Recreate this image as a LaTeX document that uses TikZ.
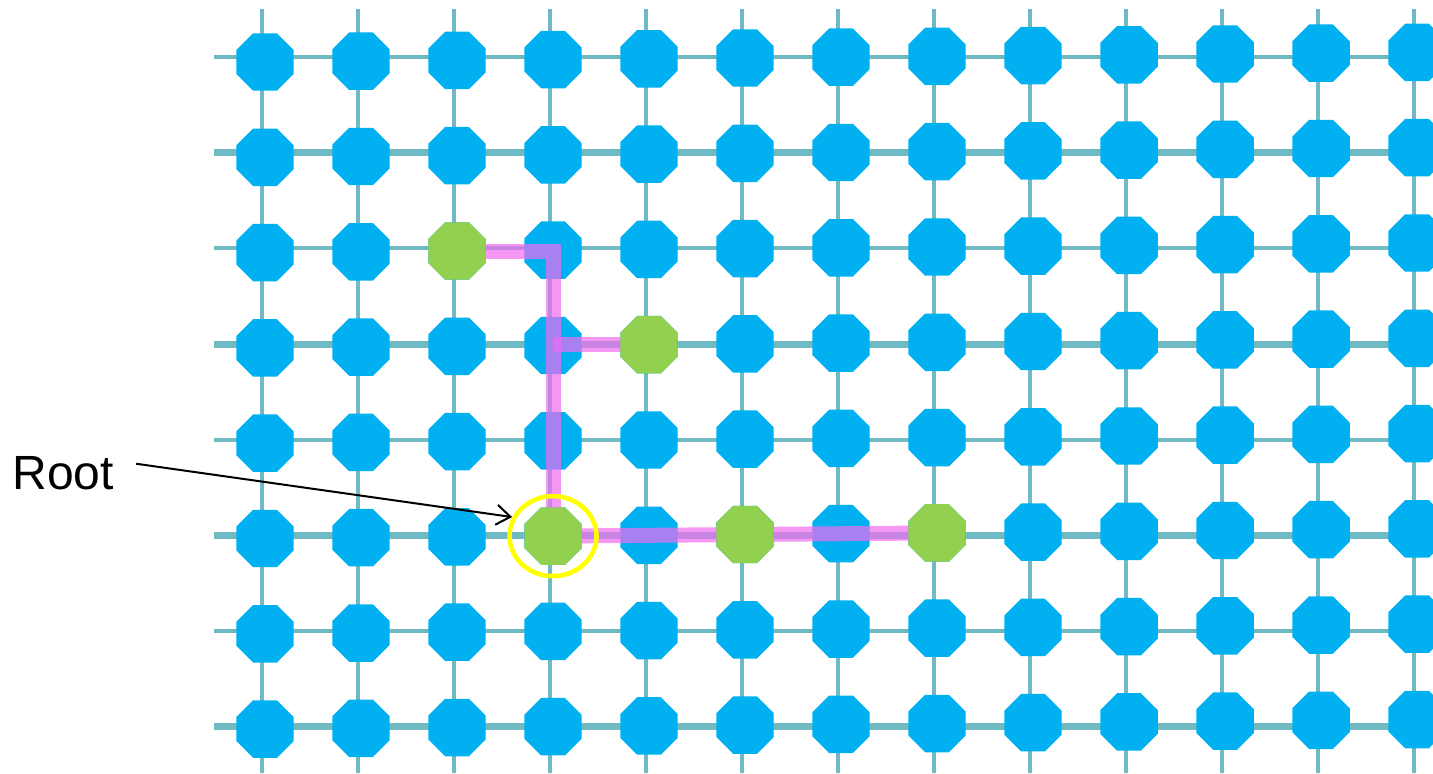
\documentclass[tikz,border=0pt]{standalone}
\usepackage{fontspec}
\setmainfont{Liberation Sans}
\usetikzlibrary{shapes.geometric,arrows.meta}
\begin{document}
\begin{tikzpicture}[x=0.5pt,y=-0.5pt,
  wire/.style={draw=wirecol,line width=2pt},
  cell/.style={regular polygon,regular polygon sides=8,inner sep=0pt,
               minimum size=31.1pt,fill=cellblue},
  leaf/.style={cell,fill=leafgreen},
  trail/.style={draw=trailpink,draw opacity=0.7,line width=7.5pt},
  ring/.style={ellipse,draw=ringyellow,line width=2.3pt,inner sep=0pt,
               minimum width=43.5pt,minimum height=40pt}]
  \definecolor{wirecol}{HTML}{70BAC3}
  \definecolor{cellblue}{HTML}{00B0F0}
  \definecolor{leafgreen}{HTML}{92D050}
  \definecolor{trailpink}{HTML}{F06CF0}
  \definecolor{ringyellow}{HTML}{FFFF00}
  \useasboundingbox (0,0) rectangle (1433,773);
  \foreach \r/\w in {1/2,2/3.5,3/2,4/3.5,5/2,6/3.5,7/2,8/3.5} {
    \pgfmathsetmacro{\y}{57+95.7*(\r-1)}
    \draw[wire,line width=\w pt] (214,\y) -- (1433,\y);
  }
  \foreach \c in {1,...,13} {
    \pgfmathsetmacro{\x}{262+96*(\c-1)}
    \draw[wire] (\x,9) -- (\x,773);
  }
  \foreach \c in {1,...,13} {
    \foreach \r in {1,...,8} {
      \pgfmathsetmacro{\x}{265+96*(\c-1)}
      \pgfmathsetmacro{\y}{62+95.7*(\r-1)-0.8*(\c-1)-0.4*(\r-1)}
      \node[cell] (n-\c-\r) at (\x,\y) {};
    }
  }
  \draw[trail] (n-3-3.center) -| (n-4-6.center);
  \draw[trail] (n-5-4.center) -- (n-5-4.center -| n-4-6.center);
  \draw[trail] (n-4-6.center) -- (n-6-6.center) -- (n-8-6.center);
  \foreach \c/\r in {3/3,5/4,4/6,6/6,8/6}
    \node[leaf] (g-\c-\r) at (n-\c-\r) {};
  \node[ring] (ring) at (n-4-6) {};
  \node[font=\fontsize{24}{28}\selectfont,anchor=base west,inner sep=0pt] (lbl) at (12,489) {Root};
  \draw[-{Straight Barb[length=7pt,width=10pt]},line width=1pt]
    ([xshift=11pt,yshift=4.5pt]lbl.east) -- (ring.155);
\end{tikzpicture}
\end{document}
